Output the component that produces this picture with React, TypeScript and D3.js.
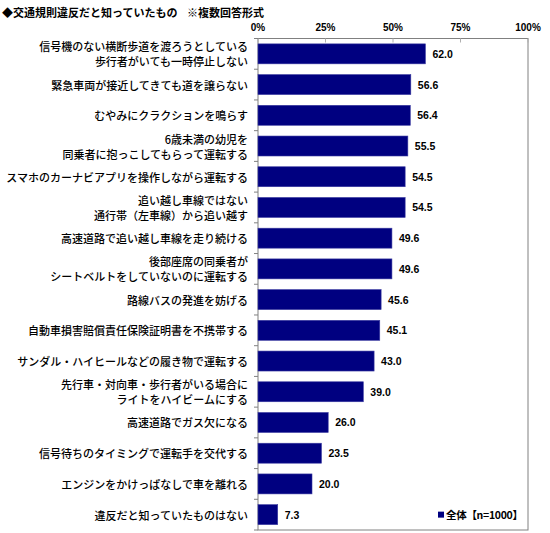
import * as d3 from 'd3'

// data
const categories: string[][] = [
    ['信号機のない横断歩道を渡ろうとしている', '歩行者がいても一時停止しない'],
    ['緊急車両が接近してきても道を譲らない'],
    ['むやみにクラクションを鳴らす'],
    ['6歳未満の幼児を', '同乗者に抱っこしてもらって運転する'],
    ['スマホのカーナビアプリを操作しながら運転する'],
    ['追い越し車線ではない', '通行帯（左車線）から追い越す'],
    ['高速道路で追い越し車線を走り続ける'],
    ['後部座席の同乗者が', 'シートベルトをしていないのに運転する'],
    ['路線バスの発進を妨げる'],
    ['自動車損害賠償責任保険証明書を不携帯する'],
    ['サンダル・ハイヒールなどの履き物で運転する'],
    ['先行車・対向車・歩行者がいる場合に', 'ライトをハイビームにする'],
    ['高速道路でガス欠になる'],
    ['信号待ちのタイミングで運転手を交代する'],
    ['エンジンをかけっぱなしで車を離れる'],
    ['違反だと知っていたものはない'],
]
const values: number[] = [62.0, 56.6, 56.4, 55.5, 54.5, 54.5, 49.6, 49.6, 45.6, 45.1, 43.0, 39.0, 26.0, 23.5, 20.0, 7.3]
const xTicks: number[] = [0, 25, 50, 75, 100]
const title = '◆交通規則違反だと知っていたもの'
const note = '※複数回答形式'
const legendLabel = '全体【n=1000】'

const jpFont = '"Noto Sans CJK JP", sans-serif'
const numFont = '"Liberation Sans", Arial, sans-serif'
const barColour = '#000080'

const App = () => {
    const svgWidth = 550
    const svgHeight = 533
    const margin = { left: 258, right: 22, top: 38.5, bottom: 3 }
    const width = svgWidth - margin.left - margin.right
    const height = svgHeight - margin.top - margin.bottom
    const bandStep = height / categories.length

    const x = d3.scaleLinear().domain([0, 100]).range([0, width])
    const y = d3
        .scaleBand<number>()
        .domain(d3.range(categories.length))
        .range([0, height])
        .paddingInner(0.35)
        .paddingOuter(0.175)

    const bars = values.map((v, i) => {
        const yPos = y(i) as number
        const cy = yPos + y.bandwidth() / 2
        const lines = categories[i]
        return (
            <g key={i}>
                <rect
                    x={x(0)}
                    y={yPos}
                    width={x(v)}
                    height={y.bandwidth()}
                    fill={barColour}
                    stroke='#3a3aa0'
                    strokeWidth={0.6}
                />
                <text
                    x={x(v) + 7}
                    y={cy}
                    dominantBaseline='central'
                    fontFamily={numFont}
                    fontWeight='bold'
                    fontSize={10.5}
                >
                    {v.toFixed(1)}
                </text>
                {lines.map((line, j) => (
                    <text
                        key={j}
                        x={-10}
                        y={cy + (j - (lines.length - 1) / 2) * 15}
                        textAnchor='end'
                        dominantBaseline='central'
                        fontFamily={jpFont}
                        fontWeight={500}
                        fontSize={11}
                    >
                        {line}
                    </text>
                ))}
            </g>
        )
    })

    const leftTicks = d3.range(categories.length + 1).map(i => (
        <line
            key={i}
            x1={-4}
            x2={0}
            y1={i * bandStep}
            y2={i * bandStep}
            stroke='#808080'
            strokeWidth={1}
        />
    ))

    const topAxis = xTicks.map(t => (
        <g key={t}>
            <line x1={x(t)} x2={x(t)} y1={0} y2={4} stroke='#b0b0b0' strokeWidth={1} />
            <text
                x={x(t)}
                y={-11}
                textAnchor='middle'
                dominantBaseline='central'
                fontFamily={numFont}
                fontWeight='bold'
                fontSize={10}
            >
                {t}%
            </text>
        </g>
    ))

    const legendY = (y(categories.length - 1) as number) + y.bandwidth() / 2

    return (
        <svg
            width={svgWidth}
            height={svgHeight}
            style={{ position: 'absolute', left: 0, top: 0, background: '#fff' }}
        >
            <text
                x={2}
                y={12}
                dominantBaseline='central'
                fontFamily={jpFont}
                fontWeight='bold'
                fontSize={11}
            >
                {title}
                <tspan x={187}>{note}</tspan>
            </text>
            <g transform={`translate(${margin.left},${margin.top})`}>
                <rect x={0} y={0} width={width} height={height} fill='none' stroke='#808080' strokeWidth={1} />
                {topAxis}
                {leftTicks}
                {bars}
                <rect x={180} y={legendY - 3} width={6} height={6} fill={barColour} />
                <text
                    x={188}
                    y={legendY}
                    dominantBaseline='central'
                    fontFamily={jpFont}
                    fontWeight='bold'
                    fontSize={10.5}
                    letterSpacing={-0.3}
                >
                    {legendLabel}
                </text>
            </g>
        </svg>
    )
}

export default App
